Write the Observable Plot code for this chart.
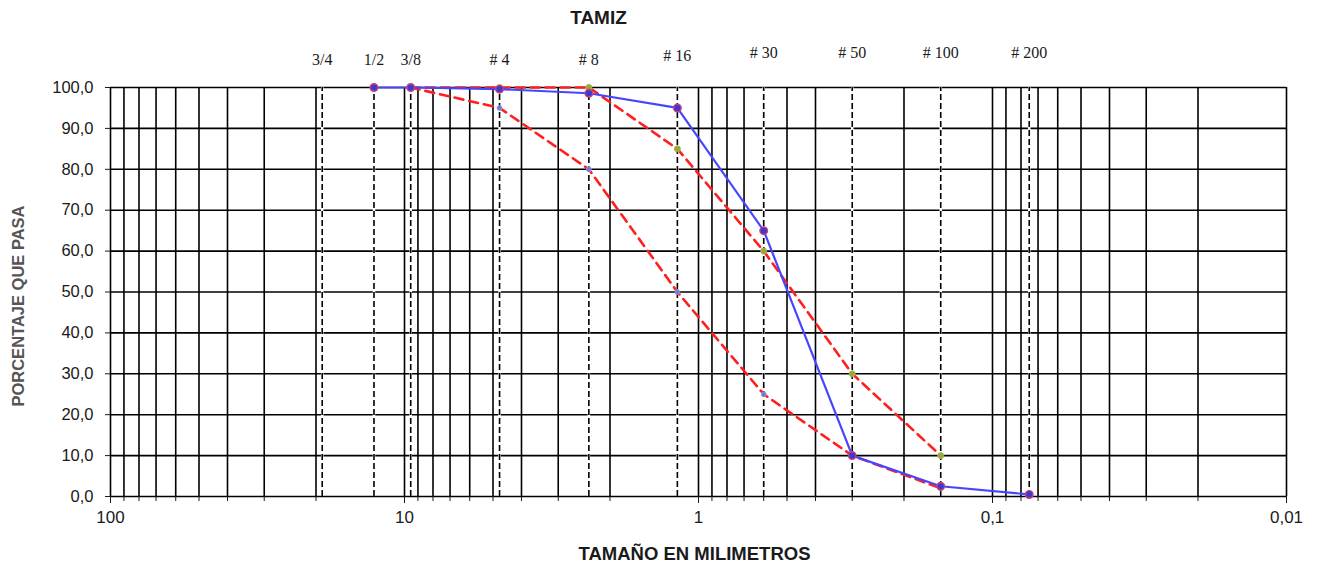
<!DOCTYPE html>
<html>
<head>
<meta charset="utf-8">
<script src="https://cdn.jsdelivr.net/npm/d3@7"></script>
<script src="https://cdn.jsdelivr.net/npm/@observablehq/plot@0.6"></script>
<style>
  html, body { margin: 0; padding: 0; background: white; }
</style>
</head>
<body>
<div id="chart"></div>
<script>
// Sieves (size in mm) and their labels
const sieveLabels = ["3/4", "1/2", "3/8", "# 4", "# 8", "# 16", "# 30", "# 50", "# 100", "# 200"];
const sieveSizes = [19.05, 12.7, 9.525, 4.75, 2.36, 1.18, 0.6, 0.3, 0.15, 0.075];

// Sample gradation (blue solid)
const sampleSizes = [12.7, 9.525, 4.75, 2.36, 1.18, 0.6, 0.3, 0.15, 0.075];
const samplePass = [100, 100, 99.6, 98.6, 95, 65, 10, 2.5, 0.5];

// Specification band (red dashed)
const bandSizes = [9.525, 4.75, 2.36, 1.18, 0.6, 0.3, 0.15];
const upperPass = [100, 100, 100, 85, 60, 30, 10];
const lowerPass = [100, 95, 80, 50, 25, 10, 2];

// Axis ticks
const xMajorTicks = [100, 10, 1, 0.1, 0.01];
const xMajorLabels = ["100", "10", "1", "0,1", "0,01"];
const xGridTicks = [100, 90, 80, 70, 60, 50, 40, 30, 20,
  10, 9, 8, 7, 6, 5, 4, 3, 2,
  1, 0.9, 0.8, 0.7, 0.6, 0.5, 0.4, 0.3, 0.2,
  0.1, 0.09, 0.08, 0.07, 0.06, 0.05, 0.04, 0.03, 0.02, 0.01];
const yTicks = [0, 10, 20, 30, 40, 50, 60, 70, 80, 90, 100];

const sample = sampleSizes.map((s, i) => ({size: s, pass: samplePass[i]}));
const upper = bandSizes.map((s, i) => ({size: s, pass: upperPass[i]}));
const lower = bandSizes.map((s, i) => ({size: s, pass: lowerPass[i]}));
const sieves = sieveSizes.map((s, i) => ({size: s, label: sieveLabels[i], idx: i}));
const majorLabelMap = new Map(xMajorTicks.map((t, i) => [t, xMajorLabels[i]]));

const serif = "'Liberation Serif', 'Times New Roman', serif";
const labelStyle = {x: "size", text: "label", frameAnchor: "top", lineAnchor: "middle", fontFamily: serif, fontSize: 16, fill: "#1a1a1a"};

const chart = Plot.plot({
  width: 1317,
  height: 566,
  marginTop: 87,
  marginLeft: 110,
  marginRight: 31,
  marginBottom: 70,
  style: {fontFamily: "'Liberation Sans', Arial, sans-serif", fontSize: "16px", color: "#1a1a1a", background: "white"},
  x: {type: "log", domain: [100, 0.01], axis: null},
  y: {domain: [0, 100], axis: null},
  marks: [
    // grid
    Plot.ruleX(xGridTicks, {stroke: "#000", strokeWidth: 1.6}),
    Plot.ruleY(yTicks, {stroke: "#000", strokeWidth: 1.6}),
    // sieve dashed lines
    Plot.ruleX(sieves, {x: "size", y1: 0, y2: 100, stroke: "white", strokeWidth: 2.5}),
    Plot.ruleX(sieves, {x: "size", y1: 0, y2: 100, stroke: "#000", strokeWidth: 1.6, strokeDasharray: "6,3"}),
    // axes
    Plot.axisY(yTicks, {anchor: "left", tickSize: 5, tickPadding: 12, tickFormat: d => d.toFixed(1).replace(".", ","), fontSize: 16.5, label: null}),
    Plot.axisX(xGridTicks, {anchor: "bottom", tickSize: 5, tickFormat: () => "", label: null}),
    Plot.axisX(xMajorTicks, {anchor: "bottom", tickSize: 7, tickPadding: 7, tickFormat: d => majorLabelMap.get(d), fontSize: 17, label: null}),
    // band
    Plot.line(upper, {x: "size", y: "pass", stroke: "#ff1f1f", strokeWidth: 2.6, strokeDasharray: "9,6"}),
    Plot.line(lower, {x: "size", y: "pass", stroke: "#ff1f1f", strokeWidth: 2.6, strokeDasharray: "9,6"}),
    Plot.dot(upper, {x: "size", y: "pass", r: 3, fill: "#a8a040", stroke: "#8cc048", strokeWidth: 1}),
    Plot.dot(lower, {x: "size", y: "pass", r: 2.5, fill: "#6a7ad8", stroke: "#a0a0d0", strokeWidth: 0.8}),
    // sample
    Plot.line(sample, {x: "size", y: "pass", stroke: "#4646ff", strokeWidth: 2.2}),
    Plot.dot(sample, {x: "size", y: "pass", r: 3.8, fill: "#3a3ad0", stroke: "#d04070", strokeWidth: 1.4}),
    // sieve labels
    Plot.text(sieves.filter(d => d.idx < 5), {...labelStyle, dy: -28}),
    Plot.text(sieves.filter(d => d.idx === 5), {...labelStyle, dy: -32}),
    Plot.text(sieves.filter(d => d.idx > 5), {...labelStyle, dy: -35}),
    // titles
    Plot.text(["TAMIZ"], {frameAnchor: "top", lineAnchor: "middle", dx: -100, dy: -70, fontWeight: "bold", fontSize: 19}),
    Plot.text(["TAMAÑO EN MILIMETROS"], {frameAnchor: "bottom", lineAnchor: "middle", dx: -4, dy: 57.5, fontWeight: "bold", fontSize: 18.5}),
    Plot.text(["PORCENTAJE QUE PASA"], {frameAnchor: "left", textAnchor: "middle", lineAnchor: "middle", dx: -92, dy: 14, rotate: -90, fontWeight: "bold", fontSize: 16.5, fill: "#555"})
  ]
});
document.getElementById("chart").appendChild(chart);
</script>
</body>
</html>
